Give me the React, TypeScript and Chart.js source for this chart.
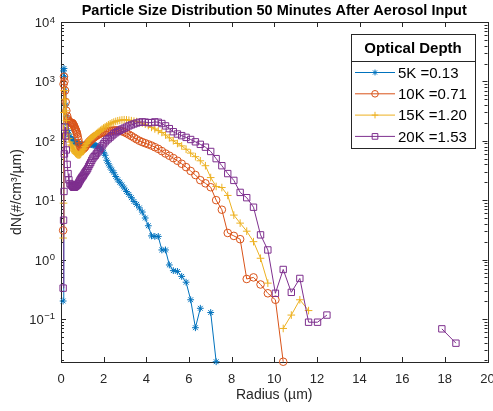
import React, { useEffect, useRef } from "react";
import { Chart, registerables } from "chart.js";

Chart.register(...registerables);

// Radius bins (µm), shared by all series
const radius = [
  0.10, 0.12, 0.14, 0.16, 0.19, 0.22, 0.25, 0.29, 0.33, 0.37, 0.42, 0.47,
  0.509, 0.528, 0.547, 0.567, 0.588, 0.609, 0.632, 0.655, 0.679, 0.704,
  0.729, 0.756, 0.784, 0.812, 0.842, 0.873, 0.905, 0.938, 0.972, 1.008,
  1.045, 1.083, 1.123, 1.164, 1.206, 1.250, 1.296, 1.344, 1.393, 1.444,
  1.497, 1.551, 1.608, 1.667, 1.728, 1.791, 1.857, 1.925, 1.995, 2.068,
  2.144, 2.222, 2.304, 2.388, 2.475, 2.566, 2.660, 2.757, 2.858, 2.963,
  3.071, 3.184, 3.300, 3.421, 3.546, 3.676, 3.811, 3.950, 4.095, 4.245,
  4.400, 4.561, 4.728, 4.901, 5.080, 5.266, 5.459, 5.659, 5.866, 6.080,
  6.303, 6.533, 6.772, 7.020, 7.276, 7.543, 7.819, 8.105, 8.401, 8.709,
  9.027, 9.357, 9.700, 10.054, 10.42, 10.80, 11.20, 11.61, 12.03, 12.47,
  12.93, 13.40, 13.89, 14.40, 14.93, 15.47, 16.04, 16.63, 17.23, 17.86, 18.52,
];

const od5K = [
  0.2, 1500, 1650, 1200, 700, 400, 260, 190, 150, 130, 118, 110,
  106, 104, 102, 100, 98, 97, 96, 95, 94, 93,
  92, 91, 90, 89, 88, 87, 86, 85, 85, 85,
  85, 85, 85, 85, 86, 86, 87, 87, 87, 86,
  85, 84, 83, 82, 80, 78, 75, 70, 64, 57,
  47, 41, 36, 32, 29, 25, 22, 20, 18, 16,
  14, 12.5, 11, 9.5, 8.5, 7.4, 6.3, 5.0, 3.7, 2.5,
  2.45, 2.45, 1.45, 1.45, 0.81, 0.65, 0.63, 0.52, 0.415, 0.21,
  0.071, 0.151, null, 0.128, 0.019, null, null, null, null, null,
  null, null, null, null, null, null, null, null, null, null,
  null, null, null, null, null, null, null, null, null, null, null,
];

const od10K = [
  3.1, 900, 1200, 1000, 700, 450, 320, 260, 230, 215, 205, 200,
  200, 198, 195, 190, 185, 178, 170, 162, 155, 148,
  140, 130, 118, 105, 92, 82, 76, 73, 72, 72,
  73, 75, 78, 82, 86, 90, 94, 98, 102, 106,
  110, 114, 118, 122, 126, 130, 133, 136, 139, 141,
  143, 145, 147, 148, 149, 150, 150, 148, 145, 140,
  134, 127, 120, 113, 106, 100, 95, 91, 87, 83,
  78, 73, 67, 61, 56, 51, 46, 41, 36, 31,
  26.5, 21.7, 19.2, 16.5, 10, 6.9, 2.8, 2.5, 2.2, 0.47,
  0.5, 0.38, 0.27, 0.21, 0.019, null, null, null, null, null,
  null, null, null, null, null, null, null, null, null, null, null,
];

const od15K = [
  2.3, 8.9, 300, 700, 500, 320, 220, 160, 130, 110, 95, 85,
  82, 79, 76, 73, 70, 68, 66, 64, 62, 61,
  60, 59, 58, 58, 58, 58, 59, 61, 64, 67,
  71, 75, 80, 85, 90, 95, 100, 105, 110, 114,
  118, 122, 127, 132, 138, 144, 150, 157, 164, 171,
  178, 186, 193, 200, 206, 212, 217, 221, 224, 226,
  225, 222, 218, 214, 210, 205, 199, 190, 180, 168,
  158, 148, 138, 125, 112, 100, 90, 82, 72, 62,
  54, 46, 38, 24, 17, 16.3, 12, 5.6, 4.1, 3.0,
  2.0, 1.05, 0.40, null, 0.069, 0.116, 0.21, 0.138, null, null,
  null, null, null, null, null, null, null, null, null, null, null,
];

const od20K = [
  0.33, 4.6, 14, 60, 170, 120, 70, 40, 28, 22, 19, 18,
  18, 17.5, 17, 17, 16.5, 16.5, 16.5, 17, 17, 17.5,
  17.5, 18, 18.5, 19, 20, 21, 22, 23, 24, 25,
  26, 27.5, 29, 30.5, 32, 34, 37, 40, 43, 47,
  51, 54, 57, 61, 65, 70, 75, 82, 89, 96,
  103, 108, 115, 122, 130, 137, 143, 150, 157, 163,
  170, 178, 185, 192, 199, 205, 208, 206, 202, 202,
  208, 205, 195, 178, 160, 142, 130, 122, 114, 105,
  96, 87, 78, 66, 50, 38, 28, 21.5, 13.5, 11,
  7.6, 2.6, 1.45, 0.27, 0.68, 0.28, 0.48, 0.088, 0.088, 0.116,
  null, null, null, null, null, null, null, null, null, 0.068, 0.039,
];

const seriesLabels = ["5K =0.13", "10K =0.71", "15K =1.20", "20K =1.53"];
const seriesColors = ["#0072BD", "#D95319", "#EDB120", "#7E2F8E"];
const seriesMarkers = ["star", "circle", "cross", "rect"];
const seriesRadii = [3.4, 3.8, 3.8, 4.5];
const legendTitle = "Optical Depth";

const xTickValues = [0, 2, 4, 6, 8, 10, 12, 14, 16, 18, 20];
const yTickValues = [0.1, 1, 10, 100, 1000, 10000];
const yTickBase = "10";
const yTickExponents = ["−1", "0", "1", "2", "3", "4"];

const FONT = '"Liberation Sans", Arial, Helvetica, sans-serif';
const AXIS_COLOR = "#262626";

function drawMarker(ctx: CanvasRenderingContext2D, style: string, x: number, y: number, r: number) {
  ctx.beginPath();
  if (style === "star") {
    for (let k = 0; k < 4; k++) {
      const a = (k * Math.PI) / 4;
      ctx.moveTo(x - Math.cos(a) * r, y - Math.sin(a) * r);
      ctx.lineTo(x + Math.cos(a) * r, y + Math.sin(a) * r);
    }
  } else if (style === "circle") {
    ctx.arc(x, y, r, 0, Math.PI * 2);
  } else if (style === "cross") {
    ctx.moveTo(x - r, y);
    ctx.lineTo(x + r, y);
    ctx.moveTo(x, y - r);
    ctx.lineTo(x, y + r);
  } else {
    const s = r * Math.SQRT1_2;
    ctx.rect(x - s, y - s, 2 * s, 2 * s);
  }
  ctx.stroke();
}

const axesPlugin = {
  id: "matlabAxes",
  beforeDatasetsDraw(chart: any) {
    const { ctx, chartArea: a, scales } = chart;
    const x = scales.x;
    const y = scales.y;
    ctx.save();
    ctx.strokeStyle = AXIS_COLOR;
    ctx.lineWidth = 1;
    ctx.beginPath();
    for (const t of xTickValues) {
      const px = Math.round(x.getPixelForValue(t)) + 0.5;
      ctx.moveTo(px, a.bottom);
      ctx.lineTo(px, a.bottom - 5);
      ctx.moveTo(px, a.top);
      ctx.lineTo(px, a.top + 5);
    }
    for (const v of yTickValues) {
      const py = Math.round(y.getPixelForValue(v)) + 0.5;
      ctx.moveTo(a.left, py);
      ctx.lineTo(a.left + 5, py);
      ctx.moveTo(a.right, py);
      ctx.lineTo(a.right - 5, py);
    }
    for (let d = -2; d <= 3; d++) {
      for (let k = 2; k <= 9; k++) {
        const v = k * Math.pow(10, d);
        if (v < y.min || v > y.max) continue;
        const py = Math.round(y.getPixelForValue(v)) + 0.5;
        ctx.moveTo(a.left, py);
        ctx.lineTo(a.left + 3, py);
        ctx.moveTo(a.right, py);
        ctx.lineTo(a.right - 3, py);
      }
    }
    ctx.stroke();
    ctx.strokeRect(Math.round(a.left) + 0.5, Math.round(a.top) + 0.5, Math.round(a.right - a.left), Math.round(a.bottom - a.top));

    // y tick labels: 10 with raised exponent
    ctx.fillStyle = AXIS_COLOR;
    const rightEdge = a.left - 6;
    yTickValues.forEach((v, i) => {
      const py = y.getPixelForValue(v);
      ctx.font = `9.5px ${FONT}`;
      ctx.textAlign = "left";
      ctx.textBaseline = "alphabetic";
      const ew = ctx.measureText(yTickExponents[i]).width;
      const ex = rightEdge - ew;
      ctx.fillText(yTickExponents[i], ex, py + 0.5);
      ctx.font = `13px ${FONT}`;
      ctx.textAlign = "right";
      ctx.textBaseline = "middle";
      ctx.fillText(yTickBase, ex - 0.5, py + 1.5);
    });
    ctx.restore();
  },
};

const legendPlugin = {
  id: "boxLegend",
  afterDraw(chart: any) {
    const { ctx, chartArea: a } = chart;
    const right = a.right - 12.5;
    const left = right - 124;
    const top = a.top + 12;
    const bottom = top + 114;
    ctx.save();
    ctx.fillStyle = "#ffffff";
    ctx.fillRect(left, top, right - left, bottom - top);
    ctx.strokeStyle = AXIS_COLOR;
    ctx.lineWidth = 1;
    ctx.strokeRect(Math.round(left) + 0.5, Math.round(top) + 0.5, Math.round(right - left), Math.round(bottom - top));
    ctx.beginPath();
    ctx.moveTo(left, Math.round(top + 27) + 0.5);
    ctx.lineTo(right, Math.round(top + 27) + 0.5);
    ctx.stroke();
    ctx.fillStyle = "#000000";
    ctx.font = `bold 15px ${FONT}`;
    ctx.textAlign = "center";
    ctx.textBaseline = "middle";
    ctx.fillText(legendTitle, (left + right) / 2, top + 15);
    ctx.font = `15px ${FONT}`;
    ctx.textAlign = "left";
    chart.data.datasets.forEach((ds: any, i: number) => {
      const cy = top + 38.5 + i * 21.3;
      ctx.strokeStyle = seriesColors[i];
      ctx.lineWidth = 1;
      ctx.beginPath();
      ctx.moveTo(left + 4, cy);
      ctx.lineTo(left + 44, cy);
      ctx.stroke();
      drawMarker(ctx, seriesMarkers[i], left + 24, cy, seriesRadii[i] - 0.5);
      ctx.fillStyle = "#000000";
      ctx.fillText(ds.label, left + 47, cy + 1);
    });
    ctx.restore();
  },
};

export default function App() {
  const canvasRef = useRef<HTMLCanvasElement | null>(null);

  useEffect(() => {
    const canvas = canvasRef.current;
    if (!canvas) return;
    const seriesValues = [od5K, od10K, od15K, od20K];
    const datasets = seriesValues.map((vals, i) => ({
      label: seriesLabels[i],
      data: radius.map((r, j) => ({ x: r, y: vals[j] })),
      borderColor: seriesColors[i],
      backgroundColor: "rgba(0,0,0,0)",
      borderWidth: 1,
      pointStyle: seriesMarkers[i],
      pointRadius: seriesRadii[i],
      pointBorderWidth: 1,
      pointBorderColor: seriesColors[i],
      pointBackgroundColor: "rgba(0,0,0,0)",
      spanGaps: false,
      tension: 0,
      clip: false as any,
      order: 3 - i,
    }));

    const chart = new Chart(canvas, {
      type: "line",
      data: { datasets },
      plugins: [axesPlugin, legendPlugin],
      options: {
        animation: false,
        responsive: false,
        devicePixelRatio: 1,
        parsing: false as any,
        layout: { padding: { left: 0, right: 2.5, top: 0, bottom: 0 } },
        plugins: {
          legend: { display: false },
          tooltip: { enabled: false },
          title: {
            display: true,
            text: "Particle Size Distribution 50 Minutes After Aerosol Input",
            color: "#000000",
            font: { family: FONT, size: 14.5, weight: "bold" },
            padding: { top: 2, bottom: 2.6 },
            fullSize: false,
          },
        },
        scales: {
          x: {
            type: "linear",
            min: 0,
            max: 20,
            grid: { display: false },
            border: { display: false },
            ticks: {
              stepSize: 2,
              padding: 2,
              color: AXIS_COLOR,
              font: { family: FONT, size: 13 },
              maxRotation: 0,
              autoSkip: false,
            },
            afterBuildTicks: (s: any) => {
              s.ticks = xTickValues.map((v) => ({ value: v }));
            },
            afterFit: (s: any) => {
              s.height = 49;
              s.paddingLeft = 0;
              s.paddingRight = 0;
            },
            title: {
              display: true,
              text: "Radius (µm)",
              color: AXIS_COLOR,
              font: { family: FONT, size: 14 },
              padding: { top: 0, bottom: 7 },
            },
          },
          y: {
            type: "logarithmic",
            min: 0.0188,
            max: 10000,
            grid: { display: false },
            border: { display: false },
            ticks: { display: false },
            afterBuildTicks: (s: any) => {
              s.ticks = yTickValues.map((v) => ({ value: v }));
            },
            afterFit: (s: any) => {
              s.width = 61;
              s.paddingTop = 0;
              s.paddingBottom = 0;
            },
            title: {
              display: true,
              text: "dN(#/cm³/µm)",
              color: AXIS_COLOR,
              font: { family: FONT, size: 14 },
              padding: { top: 9, bottom: 0 },
            },
          },
        },
      } as any,
    });
    return () => chart.destroy();
  }, []);

  return (
    <div style={{ position: "absolute", left: 0, top: 0, width: 493, height: 411, background: "#ffffff" }}>
      <canvas ref={canvasRef} width={493} height={411} style={{ display: "block" }} />
    </div>
  );
}
